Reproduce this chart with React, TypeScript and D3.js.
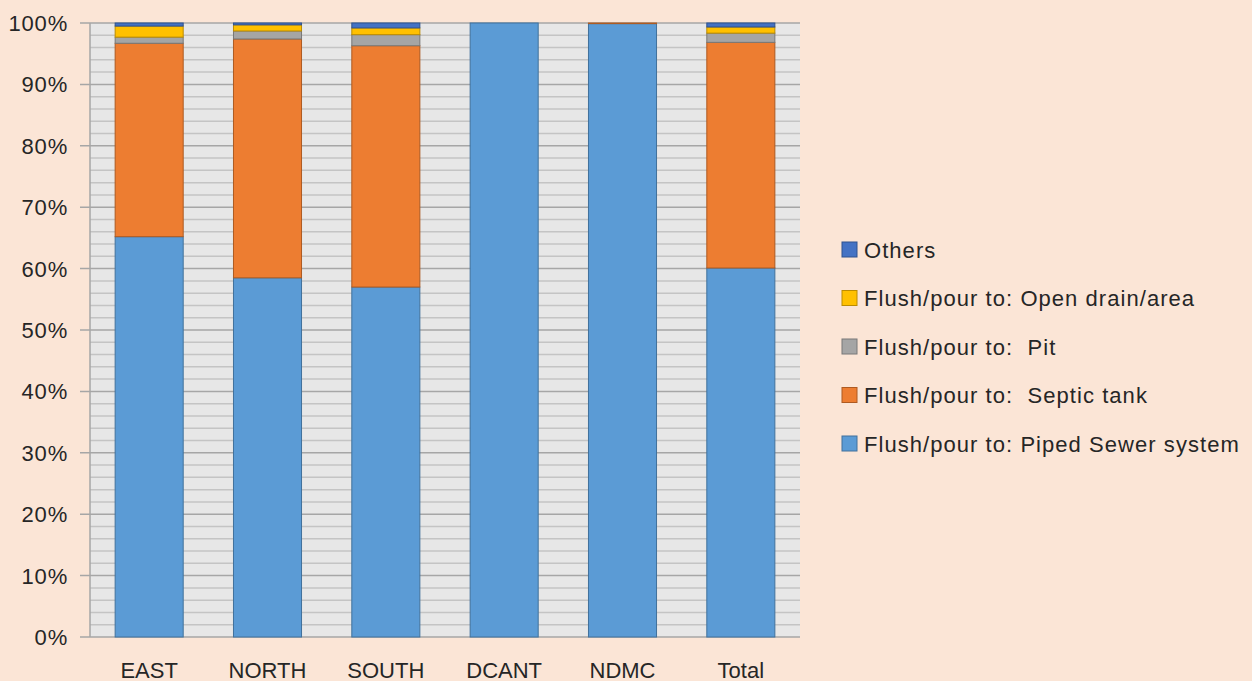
import React, { useEffect, useRef } from "react";
import * as d3 from "d3";

// categories and series (percent of households)
const categories = ["EAST", "NORTH", "SOUTH", "DCANT", "NDMC", "Total"];
const seriesNames = [
  "Flush/pour to: Piped Sewer system",
  "Flush/pour to:  Septic tank",
  "Flush/pour to:  Pit",
  "Flush/pour to: Open drain/area",
  "Others",
];
const piped = [65.2, 58.5, 57.0, 100, 99.9, 60.1];
const septic = [31.5, 38.9, 39.3, 0, 0.1, 36.75];
const pit = [1.0, 1.3, 1.8, 0, 0, 1.5];
const openDrain = [1.8, 1.0, 1.1, 0, 0, 1.0];
const others = [0.5, 0.3, 0.8, 0, 0, 0.65];
const yTicks = [0, 10, 20, 30, 40, 50, 60, 70, 80, 90, 100];

const colors = ["#5B9BD5", "#ED7D31", "#A5A5A5", "#FFC000", "#4472C4"];
const strokes = ["#41719C", "#AE5A21", "#787878", "#BC8C00", "#2F528F"];

const App: React.FC = () => {
  const svgRef = useRef<SVGSVGElement | null>(null);

  useEffect(() => {
    if (!svgRef.current) return;
    const width = 1252;
    const height = 681;
    const margin = { top: 23, right: 452, bottom: 44, left: 90 };
    const font = "Liberation Sans, Arial, sans-serif";

    const svg = d3.select(svgRef.current);
    svg.selectAll("*").remove();
    svg.attr("width", width).attr("height", height);

    svg.append("rect").attr("width", width).attr("height", height).attr("fill", "#FBE5D6");

    const x = d3
      .scaleBand<string>()
      .domain(categories)
      .range([margin.left, width - margin.right])
      .paddingInner(0.425)
      .paddingOuter(0.2125);

    const y = d3
      .scaleLinear()
      .domain([0, 100])
      .range([height - margin.bottom, margin.top]);

    // plot area background
    svg
      .append("rect")
      .attr("x", margin.left)
      .attr("y", margin.top)
      .attr("width", width - margin.right - margin.left)
      .attr("height", y(0) - y(100))
      .attr("fill", "#E7E7E7");

    // minor gridlines every 2%
    svg
      .append("g")
      .selectAll("line")
      .data(d3.range(2, 100, 2).filter((v) => v % 10 !== 0))
      .join("line")
      .attr("x1", margin.left)
      .attr("x2", width - margin.right)
      .attr("y1", (d) => y(d))
      .attr("y2", (d) => y(d))
      .attr("stroke", "#C4C4C4")
      .attr("stroke-width", 1.5);

    // major gridlines
    svg
      .append("g")
      .selectAll("line")
      .data(yTicks)
      .join("line")
      .attr("x1", margin.left - 10)
      .attr("x2", width - margin.right)
      .attr("y1", (d) => y(d))
      .attr("y2", (d) => y(d))
      .attr("stroke", "#A6A6A6")
      .attr("stroke-width", 1.5);

    // y axis line
    svg
      .append("line")
      .attr("x1", margin.left)
      .attr("x2", margin.left)
      .attr("y1", y(0))
      .attr("y2", y(100))
      .attr("stroke", "#A6A6A6")
      .attr("stroke-width", 1.5);

    // y labels
    svg
      .append("g")
      .selectAll("text")
      .data(yTicks)
      .join("text")
      .attr("x", 68)
      .attr("y", (d) => y(d))
      .attr("dy", "0.36em")
      .attr("text-anchor", "end")
      .attr("font-family", font)
      .attr("font-size", 22)
      .attr("letter-spacing", 0.8)
      .attr("fill", "#262626")
      .text((d) => `${d}%`);

    // x labels
    svg
      .append("g")
      .selectAll("text")
      .data(categories)
      .join("text")
      .attr("x", (d) => (x(d) || 0) + x.bandwidth() / 2)
      .attr("y", 678)
      .attr("text-anchor", "middle")
      .attr("font-family", font)
      .attr("font-size", 22)
      .attr("fill", "#262626")
      .text((d) => d);

    // stacked bars
    const rows = categories.map((c, i) => ({
      cat: c,
      s0: piped[i],
      s1: septic[i],
      s2: pit[i],
      s3: openDrain[i],
      s4: others[i],
    }));
    const stack = d3.stack<(typeof rows)[0]>().keys(["s0", "s1", "s2", "s3", "s4"]);
    const stacked = stack(rows);

    stacked.forEach((layer, li) => {
      svg
        .append("g")
        .selectAll("rect")
        .data(layer.filter((d) => d[1] - d[0] > 0))
        .join("rect")
        .attr("x", (d) => x(d.data.cat) || 0)
        .attr("width", x.bandwidth())
        .attr("y", (d) => y(Math.min(d[1], 100)))
        .attr("height", (d) => y(d[0]) - y(Math.min(d[1], 100)))
        .attr("fill", colors[li])
        .attr("stroke", strokes[li])
        .attr("stroke-width", 1);
    });

    // legend
    const legendOrder = [4, 3, 2, 1, 0];
    const legend = svg
      .append("g")
      .selectAll("g")
      .data(legendOrder)
      .join("g")
      .attr("transform", (_, i) => `translate(842, ${250 + i * 48.5})`);

    legend
      .append("rect")
      .attr("x", 0)
      .attr("y", -8)
      .attr("width", 15)
      .attr("height", 15)
      .attr("fill", (d) => colors[d])
      .attr("stroke", (d) => strokes[d])
      .attr("stroke-width", 1);

    legend
      .append("text")
      .attr("x", 22)
      .attr("y", 0)
      .attr("dy", "0.36em")
      .attr("font-family", font)
      .attr("font-size", 22)
      .attr("letter-spacing", 1.05)
      .attr("fill", "#262626")
      .style("white-space", "pre")
      .text((d) => seriesNames[d]);
  }, []);

  return (
    <svg
      ref={svgRef}
      style={{ position: "absolute", left: 0, top: 0, display: "block" }}
    />
  );
};

export default App;
